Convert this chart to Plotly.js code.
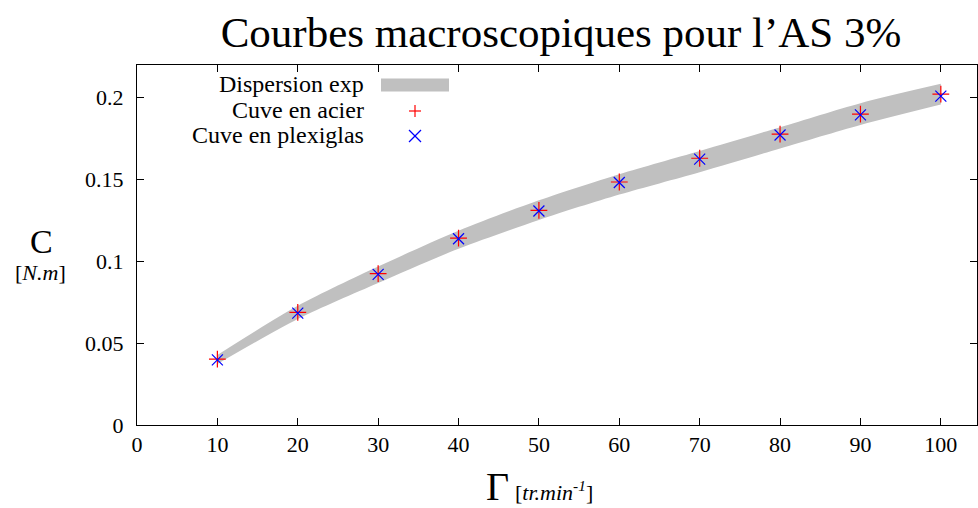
<!DOCTYPE html>
<html>
<head>
<meta charset="utf-8">
<script src="https://cdn.plot.ly/plotly-3.0.1.min.js"></script>
<style>html,body{margin:0;padding:0;background:#fff;}#chart{width:978px;height:508px;}</style>
</head>
<body>
<div id="chart"></div>
<script>
// Data
const rpm = [10, 20, 30, 40, 50, 60, 70, 80, 90, 100];
const cuveAcier = [0.0402, 0.0688, 0.0925, 0.1142, 0.1312, 0.1485, 0.1630, 0.1778, 0.1900, 0.2022];
const cuvePlexiglas = [0.0398, 0.0684, 0.0920, 0.1138, 0.1308, 0.1482, 0.1625, 0.1772, 0.1895, 0.2010];
const dispersionLow = [0.0373, 0.0648, 0.0868, 0.1077, 0.1253, 0.1408, 0.1545, 0.1690, 0.1834, 0.1959];
const dispersionHigh = [0.0428, 0.0728, 0.0968, 0.1187, 0.1373, 0.1533, 0.1675, 0.1820, 0.1967, 0.2085];
const xTicks = [0, 10, 20, 30, 40, 50, 60, 70, 80, 90, 100];
const yTicks = [0, 0.05, 0.1, 0.15, 0.2];
const yTickText = ['0', '0.05', '0.1', '0.15', '0.2'];

const serif = '"Liberation Serif", serif';

const traces = [
  {x: rpm, y: dispersionLow, type: 'scatter', mode: 'lines', line: {width: 0, color: '#c0c0c0', shape: 'spline', smoothing: 0.8}, showlegend: false, hoverinfo: 'skip'},
  {x: rpm, y: dispersionHigh, type: 'scatter', mode: 'lines', fill: 'tonexty', fillcolor: '#c0c0c0', line: {width: 0, color: '#c0c0c0', shape: 'spline', smoothing: 0.8}, name: 'Dispersion exp', showlegend: false},
  {x: rpm, y: cuveAcier, type: 'scatter', mode: 'markers', name: 'Cuve en acier', showlegend: false,
   marker: {symbol: 'cross-thin', size: 12, line: {width: 1.2, color: '#ff0000'}, color: '#ff0000'}},
  {x: rpm, y: cuvePlexiglas, type: 'scatter', mode: 'markers', name: 'Cuve en plexiglas', showlegend: false,
   marker: {symbol: 'x-thin', size: 11, line: {width: 1.2, color: '#0000ff'}, color: '#0000ff'}}
];

// Custom legend (text on the left, sample on the right, like the reference)
const L = 137, W = 840, B = 425, H = 360;
const px = v => (v - L) / W;
const py = v => (B - v) / H;
const legX = 366, sampX = 415;
const shapes = [
  {type: 'line', xref: 'paper', yref: 'paper', x0: px(381), x1: px(449), y0: py(85), y1: py(85), line: {color: '#c0c0c0', width: 13}},
  {type: 'line', xref: 'paper', yref: 'paper', x0: px(sampX-6), x1: px(sampX+6), y0: py(111), y1: py(111), line: {color: '#ff0000', width: 1.2}},
  {type: 'line', xref: 'paper', yref: 'paper', x0: px(sampX), x1: px(sampX), y0: py(117), y1: py(105), line: {color: '#ff0000', width: 1.2}},
  {type: 'line', xref: 'paper', yref: 'paper', x0: px(sampX-6), x1: px(sampX+6), y0: py(142), y1: py(130), line: {color: '#0000ff', width: 1.2}},
  {type: 'line', xref: 'paper', yref: 'paper', x0: px(sampX-6), x1: px(sampX+6), y0: py(130), y1: py(142), line: {color: '#0000ff', width: 1.2}}
];

function txt(t, x, y, size, xanchor) {
  return {xref: 'paper', yref: 'paper', x: px(x), y: py(y), xanchor: xanchor || 'center', yanchor: 'middle',
          text: t, showarrow: false, font: {family: serif, size: size, color: '#000'}};
}

const annotations = [
  txt('Dispersion exp', legX, 84, 24, 'right'),
  txt('Cuve en acier', legX, 110, 24, 'right'),
  txt('Cuve en plexiglas', legX, 135, 24, 'right'),
  txt('C', 41, 241, 34),
  txt('[<i>N.m</i>]', 40, 272, 22),
  txt('Γ', 497, 486, 40),
  txt('[<i>tr.min<sup>-1</sup></i>]', 513, 491, 22, 'left')
];

const layout = {
  width: 978, height: 508,
  margin: {l: 137, r: 1, t: 65, b: 83},
  paper_bgcolor: '#fff', plot_bgcolor: '#fff',
  showlegend: false,
  font: {family: serif, color: '#000'},
  title: {text: 'Courbes macroscopiques pour l\u2019AS 3%', font: {family: serif, size: 43, color: '#000'}, x: 561/978, xanchor: 'center', y: 1 - 32/508, yanchor: 'middle'},
  xaxis: {range: [0, 104.5], tickvals: xTicks, ticktext: xTicks.map(String), ticks: 'inside', ticklen: 7, tickcolor: '#000',
          showline: true, linecolor: '#000', linewidth: 1, mirror: 'ticks', showgrid: false, zeroline: false,
          tickfont: {family: serif, size: 22, color: '#000'}},
  yaxis: {range: [0, 0.22], tickvals: yTicks, ticktext: yTickText, ticks: 'inside', ticklen: 7, tickcolor: '#000',
          showline: true, linecolor: '#000', linewidth: 1, mirror: 'ticks', showgrid: false, zeroline: false,
          ticklabelstandoff: 8,
          tickfont: {family: serif, size: 22, color: '#000'}},
  shapes: shapes,
  annotations: annotations
};

Plotly.newPlot('chart', traces, layout, {staticPlot: true, displayModeBar: false});
</script>
</body>
</html>
